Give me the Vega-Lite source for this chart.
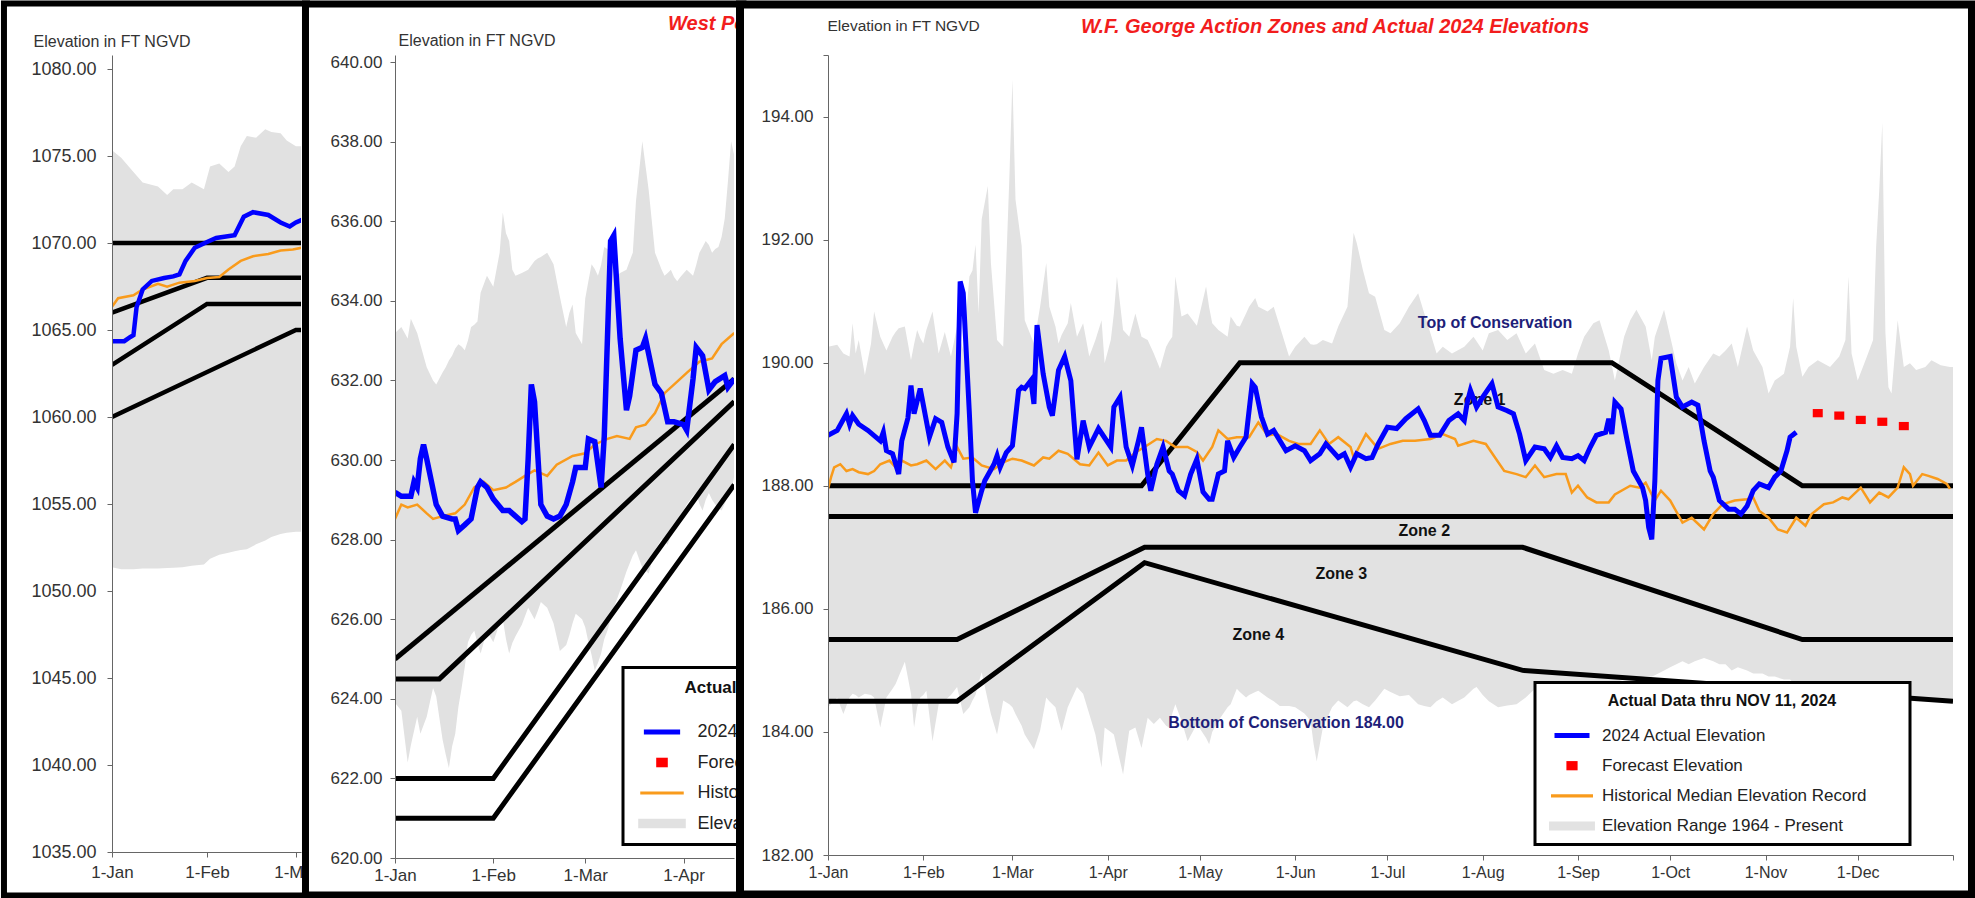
{
"$schema": "https://vega.github.io/schema/vega-lite/v6.json",
"background": "white",
"padding": 0,
"autosize": {"type": "pad"},
"spacing": 94,
"bounds": "flush",
"resolve": {"scale": {"color": "independent", "shape": "independent"}},
"config": {
  "font": "Liberation Sans",
  "view": {"stroke": null},
  "axis": {"zindex": 1, "labelFont": "Liberation Sans", "titleFont": "Liberation Sans", "labelFlush": false, "labelOverlap": false, "tickColor": "#666", "domainColor": "#666", "labelColor": "#333", "titleColor": "#333", "titleFontWeight": "normal"},
  "legend": {"strokeWidth": 3, "labelFont": "Liberation Sans", "titleFont": "Liberation Sans", "zindex": 2}
},
"datasets": {
  "p1range": [
    {"date":"2024-01-01","v":1075.33,"lo":1051.36},{"date":"2024-01-04","v":1074.9,"lo":1051.25},{"date":"2024-01-08","v":1074.08,"lo":1051.25},{"date":"2024-01-11","v":1073.48,"lo":1051.3},{"date":"2024-01-16","v":1073.25,"lo":1051.3},{"date":"2024-01-19","v":1072.76,"lo":1051.32},{"date":"2024-01-21","v":1073.09,"lo":1051.34},{"date":"2024-01-24","v":1073.09,"lo":1051.36},{"date":"2024-01-27","v":1073.48,"lo":1051.45},{"date":"2024-01-31","v":1073.09,"lo":1051.53},{"date":"2024-02-02","v":1074.4,"lo":1051.86},{"date":"2024-02-05","v":1074.57,"lo":1052.09},{"date":"2024-02-08","v":1074.08,"lo":1052.2},{"date":"2024-02-10","v":1074.4,"lo":1052.29},{"date":"2024-02-12","v":1075.56,"lo":1052.35},{"date":"2024-02-14","v":1076.15,"lo":1052.4},{"date":"2024-02-17","v":1076.05,"lo":1052.68},{"date":"2024-02-20","v":1076.54,"lo":1052.9},{"date":"2024-02-22","v":1076.38,"lo":1053.1},{"date":"2024-02-25","v":1076.31,"lo":1053.27},{"date":"2024-02-27","v":1075.89,"lo":1053.35},{"date":"2024-03-01","v":1075.56,"lo":1053.4},{"date":"2024-03-03","v":1075.56,"lo":1053.4},{"date":"2024-03-05","v":1075.6,"lo":1053.4}
  ],
  "p1blue": [
    {"date":"2024-01-01","v":1064.36},{"date":"2024-01-05","v":1064.36},{"date":"2024-01-07","v":1064.6},{"date":"2024-01-08","v":1064.7},{"date":"2024-01-09","v":1066.3},{"date":"2024-01-11","v":1067.33},{"date":"2024-01-14","v":1067.82},{"date":"2024-01-18","v":1067.99},{"date":"2024-01-21","v":1068.08},{"date":"2024-01-23","v":1068.2},{"date":"2024-01-25","v":1068.97},{"date":"2024-01-28","v":1069.73},{"date":"2024-02-01","v":1070.06},{"date":"2024-02-04","v":1070.29},{"date":"2024-02-10","v":1070.45},{"date":"2024-02-13","v":1071.51},{"date":"2024-02-16","v":1071.77},{"date":"2024-02-21","v":1071.61},{"date":"2024-02-25","v":1071.18},{"date":"2024-02-28","v":1070.95},{"date":"2024-03-01","v":1071.18},{"date":"2024-03-03","v":1071.34}
  ],
  "p1orange": [
    {"date":"2024-01-01","v":1066.34},{"date":"2024-01-03","v":1066.83},{"date":"2024-01-08","v":1067.0},{"date":"2024-01-11","v":1067.33},{"date":"2024-01-16","v":1067.66},{"date":"2024-01-19","v":1067.49},{"date":"2024-01-23","v":1067.72},{"date":"2024-01-28","v":1067.82},{"date":"2024-02-01","v":1067.99},{"date":"2024-02-05","v":1068.05},{"date":"2024-02-08","v":1068.48},{"date":"2024-02-12","v":1068.97},{"date":"2024-02-16","v":1069.24},{"date":"2024-02-21","v":1069.37},{"date":"2024-02-25","v":1069.57},{"date":"2024-02-29","v":1069.63},{"date":"2024-03-03","v":1069.73}
  ],
  "p1zones": [
    {"date":"2024-01-01","v":1070,"id":"A"},{"date":"2024-03-05","v":1070,"id":"A"},
    {"date":"2024-01-01","v":1066,"id":"B"},{"date":"2024-02-01","v":1068,"id":"B"},{"date":"2024-03-05","v":1068,"id":"B"},
    {"date":"2024-01-01","v":1063,"id":"C"},{"date":"2024-02-01","v":1066.5,"id":"C"},{"date":"2024-03-05","v":1066.5,"id":"C"},
    {"date":"2024-01-01","v":1060,"id":"D"},{"date":"2024-03-01","v":1065,"id":"D"},{"date":"2024-03-05","v":1065,"id":"D"}
  ],
  "p2range": [
    {"date":"2024-01-01","v":633.19,"lo":623.9},{"date":"2024-01-03","v":633.34,"lo":623.7},{"date":"2024-01-05","v":633.05,"lo":622.4},{"date":"2024-01-06","v":633.55,"lo":622.83},{"date":"2024-01-08","v":633.19,"lo":623.55},{"date":"2024-01-09","v":632.9,"lo":623.12},{"date":"2024-01-11","v":632.33,"lo":623.55},{"date":"2024-01-13","v":632.0,"lo":624.27},{"date":"2024-01-14","v":631.9,"lo":624.06},{"date":"2024-01-16","v":632.2,"lo":622.98},{"date":"2024-01-17","v":632.33,"lo":622.6},{"date":"2024-01-18","v":632.5,"lo":622.26},{"date":"2024-01-19","v":632.62,"lo":622.8},{"date":"2024-01-20","v":632.8,"lo":623.12},{"date":"2024-01-21","v":632.91,"lo":623.8},{"date":"2024-01-22","v":632.85,"lo":624.27},{"date":"2024-01-23","v":632.76,"lo":624.8},{"date":"2024-01-24","v":633.0,"lo":625.42},{"date":"2024-01-25","v":633.34,"lo":625.6},{"date":"2024-01-26","v":633.4,"lo":625.71},{"date":"2024-01-27","v":633.48,"lo":625.4},{"date":"2024-01-28","v":634.2,"lo":625.14},{"date":"2024-01-30","v":634.63,"lo":625.71},{"date":"2024-02-01","v":634.35,"lo":625.42},{"date":"2024-02-03","v":635.21,"lo":625.9},{"date":"2024-02-04","v":636.22,"lo":626.0},{"date":"2024-02-05","v":635.7,"lo":625.5},{"date":"2024-02-06","v":635.5,"lo":625.14},{"date":"2024-02-07","v":634.78,"lo":625.4},{"date":"2024-02-08","v":634.63,"lo":625.57},{"date":"2024-02-10","v":634.7,"lo":625.86},{"date":"2024-02-12","v":634.78,"lo":626.29},{"date":"2024-02-14","v":635.0,"lo":626.0},{"date":"2024-02-15","v":635.06,"lo":626.2},{"date":"2024-02-16","v":635.1,"lo":626.43},{"date":"2024-02-18","v":635.21,"lo":626.29},{"date":"2024-02-20","v":634.92,"lo":625.9},{"date":"2024-02-22","v":634.1,"lo":625.2},{"date":"2024-02-24","v":633.34,"lo":625.35},{"date":"2024-02-25","v":633.7,"lo":625.6},{"date":"2024-02-26","v":633.91,"lo":625.9},{"date":"2024-02-27","v":633.19,"lo":626.14},{"date":"2024-02-29","v":632.91,"lo":626.0},{"date":"2024-03-01","v":634.06,"lo":625.8},{"date":"2024-03-02","v":634.5,"lo":625.42},{"date":"2024-03-03","v":634.92,"lo":625.1},{"date":"2024-03-04","v":634.8,"lo":624.71},{"date":"2024-03-05","v":634.63,"lo":624.9},{"date":"2024-03-06","v":634.9,"lo":625.14},{"date":"2024-03-07","v":635.35,"lo":625.5},{"date":"2024-03-08","v":635.3,"lo":625.71},{"date":"2024-03-09","v":635.21,"lo":626.0},{"date":"2024-03-10","v":634.9,"lo":626.29},{"date":"2024-03-11","v":634.63,"lo":626.5},{"date":"2024-03-12","v":634.7,"lo":626.72},{"date":"2024-03-14","v":634.78,"lo":627.2},{"date":"2024-03-16","v":635.21,"lo":627.6},{"date":"2024-03-17","v":636.5,"lo":627.73},{"date":"2024-03-19","v":638.01,"lo":627.29},{"date":"2024-03-21","v":636.79,"lo":627.15},{"date":"2024-03-23","v":635.21,"lo":627.73},{"date":"2024-03-25","v":634.8,"lo":628.01},{"date":"2024-03-26","v":634.63,"lo":627.95},{"date":"2024-03-27","v":634.7,"lo":627.87},{"date":"2024-03-28","v":634.78,"lo":628.1},{"date":"2024-03-29","v":634.6,"lo":628.3},{"date":"2024-03-30","v":634.49,"lo":628.45},{"date":"2024-03-31","v":634.6,"lo":628.59},{"date":"2024-04-02","v":634.78,"lo":628.88},{"date":"2024-04-04","v":634.63,"lo":629.1},{"date":"2024-04-05","v":634.9,"lo":629.17},{"date":"2024-04-06","v":635.21,"lo":628.9},{"date":"2024-04-07","v":635.35,"lo":628.73},{"date":"2024-04-08","v":635.5,"lo":629.0},{"date":"2024-04-09","v":635.4,"lo":629.17},{"date":"2024-04-10","v":635.21,"lo":629.0},{"date":"2024-04-11","v":635.3,"lo":628.88},{"date":"2024-04-12","v":635.35,"lo":628.8},{"date":"2024-04-13","v":635.6,"lo":628.73},{"date":"2024-04-14","v":636.07,"lo":628.9},{"date":"2024-04-15","v":637.0,"lo":629.1},{"date":"2024-04-16","v":638.01,"lo":629.17},{"date":"2024-04-17","v":637.65,"lo":629.6}
  ],
  "p2blue": [
    {"date":"2024-01-01","v":629.19},{"date":"2024-01-03","v":629.09},{"date":"2024-01-06","v":629.09},{"date":"2024-01-07","v":629.45},{"date":"2024-01-08","v":629.31},{"date":"2024-01-09","v":630.03},{"date":"2024-01-10","v":630.39},{"date":"2024-01-11","v":630.03},{"date":"2024-01-14","v":628.88},{"date":"2024-01-16","v":628.59},{"date":"2024-01-19","v":628.52},{"date":"2024-01-20","v":628.52},{"date":"2024-01-21","v":628.23},{"date":"2024-01-23","v":628.37},{"date":"2024-01-25","v":628.52},{"date":"2024-01-27","v":629.31},{"date":"2024-01-28","v":629.45},{"date":"2024-01-30","v":629.31},{"date":"2024-02-01","v":629.02},{"date":"2024-02-04","v":628.73},{"date":"2024-02-06","v":628.73},{"date":"2024-02-08","v":628.59},{"date":"2024-02-10","v":628.45},{"date":"2024-02-11","v":628.52},{"date":"2024-02-12","v":630.03},{"date":"2024-02-13","v":631.9},{"date":"2024-02-14","v":631.47},{"date":"2024-02-16","v":628.88},{"date":"2024-02-18","v":628.59},{"date":"2024-02-20","v":628.52},{"date":"2024-02-22","v":628.59},{"date":"2024-02-24","v":628.88},{"date":"2024-02-26","v":629.45},{"date":"2024-02-27","v":629.81},{"date":"2024-03-01","v":629.81},{"date":"2024-03-02","v":630.53},{"date":"2024-03-04","v":630.46},{"date":"2024-03-06","v":629.31},{"date":"2024-03-07","v":630.6},{"date":"2024-03-09","v":635.5},{"date":"2024-03-10","v":635.64},{"date":"2024-03-12","v":633.05},{"date":"2024-03-14","v":631.25},{"date":"2024-03-15","v":631.61},{"date":"2024-03-17","v":632.76},{"date":"2024-03-19","v":632.83},{"date":"2024-03-20","v":633.05},{"date":"2024-03-23","v":631.9},{"date":"2024-03-25","v":631.68},{"date":"2024-03-27","v":630.96},{"date":"2024-03-29","v":630.96},{"date":"2024-04-01","v":630.89},{"date":"2024-04-02","v":630.75},{"date":"2024-04-04","v":632.04},{"date":"2024-04-05","v":632.83},{"date":"2024-04-07","v":632.62},{"date":"2024-04-09","v":631.76},{"date":"2024-04-11","v":631.97},{"date":"2024-04-14","v":632.12},{"date":"2024-04-15","v":631.83},{"date":"2024-04-17","v":632.04}
  ],
  "p2orange": [
    {"date":"2024-01-01","v":628.52},{"date":"2024-01-03","v":628.88},{"date":"2024-01-05","v":628.81},{"date":"2024-01-08","v":628.88},{"date":"2024-01-11","v":628.66},{"date":"2024-01-13","v":628.52},{"date":"2024-01-16","v":628.59},{"date":"2024-01-20","v":628.66},{"date":"2024-01-23","v":628.88},{"date":"2024-01-26","v":629.31},{"date":"2024-01-29","v":629.45},{"date":"2024-02-01","v":629.24},{"date":"2024-02-05","v":629.31},{"date":"2024-02-08","v":629.45},{"date":"2024-02-11","v":629.6},{"date":"2024-02-14","v":629.74},{"date":"2024-02-18","v":629.6},{"date":"2024-02-21","v":629.88},{"date":"2024-02-26","v":630.1},{"date":"2024-03-01","v":630.17},{"date":"2024-03-04","v":630.39},{"date":"2024-03-08","v":630.53},{"date":"2024-03-11","v":630.6},{"date":"2024-03-15","v":630.53},{"date":"2024-03-17","v":630.82},{"date":"2024-03-20","v":630.89},{"date":"2024-03-23","v":631.18},{"date":"2024-03-26","v":631.68},{"date":"2024-03-30","v":631.97},{"date":"2024-04-02","v":632.19},{"date":"2024-04-06","v":632.47},{"date":"2024-04-10","v":632.55},{"date":"2024-04-13","v":632.91},{"date":"2024-04-17","v":633.19}
  ],
  "p2zones": [
    {"date":"2024-01-01","v":625,"id":"a"},{"date":"2024-04-17","v":632.04,"id":"a"},
    {"date":"2024-01-01","v":624.5,"id":"b"},{"date":"2024-01-15","v":624.5,"id":"b"},{"date":"2024-04-17","v":631.47,"id":"b"},
    {"date":"2024-01-01","v":622,"id":"c"},{"date":"2024-02-01","v":622,"id":"c"},{"date":"2024-04-17","v":630.39,"id":"c"},
    {"date":"2024-01-01","v":621,"id":"d"},{"date":"2024-02-01","v":621,"id":"d"},{"date":"2024-04-17","v":629.38,"id":"d"}
  ],
  "p3range": [
    {"date":"2024-01-01","v":190.26,"lo":184.4},{"date":"2024-01-04","v":190.29,"lo":184.56},{"date":"2024-01-06","v":190.15,"lo":184.29},{"date":"2024-01-08","v":190.1,"lo":184.56},{"date":"2024-01-09","v":190.64,"lo":184.62},{"date":"2024-01-10","v":190.15,"lo":184.6},{"date":"2024-01-11","v":190.37,"lo":184.56},{"date":"2024-01-13","v":189.8,"lo":184.62},{"date":"2024-01-15","v":190.31,"lo":184.6},{"date":"2024-01-16","v":190.83,"lo":184.56},{"date":"2024-01-18","v":190.42,"lo":184.07},{"date":"2024-01-20","v":190.2,"lo":184.56},{"date":"2024-01-22","v":190.42,"lo":184.7},{"date":"2024-01-23","v":190.5,"lo":184.78},{"date":"2024-01-24","v":190.56,"lo":184.9},{"date":"2024-01-26","v":190.59,"lo":185.14},{"date":"2024-01-28","v":190.04,"lo":184.62},{"date":"2024-01-29","v":190.3,"lo":184.07},{"date":"2024-01-30","v":190.53,"lo":184.4},{"date":"2024-01-31","v":190.4,"lo":184.56},{"date":"2024-02-01","v":190.31,"lo":184.6},{"date":"2024-02-02","v":190.53,"lo":184.67},{"date":"2024-02-04","v":190.83,"lo":183.85},{"date":"2024-02-06","v":190.15,"lo":184.45},{"date":"2024-02-08","v":190.5,"lo":184.51},{"date":"2024-02-10","v":190.1,"lo":184.6},{"date":"2024-02-12","v":190.59,"lo":184.73},{"date":"2024-02-14","v":190.2,"lo":184.29},{"date":"2024-02-16","v":191.4,"lo":184.4},{"date":"2024-02-17","v":191.5,"lo":184.51},{"date":"2024-02-18","v":191.92,"lo":184.6},{"date":"2024-02-19","v":190.8,"lo":184.8},{"date":"2024-02-20","v":192.33,"lo":184.97},{"date":"2024-02-22","v":192.87,"lo":184.51},{"date":"2024-02-23","v":191.62,"lo":184.29},{"date":"2024-02-25","v":190.37,"lo":183.96},{"date":"2024-02-27","v":190.26,"lo":184.51},{"date":"2024-02-29","v":193.0,"lo":184.45},{"date":"2024-03-01","v":194.6,"lo":184.4},{"date":"2024-03-02","v":192.65,"lo":184.29},{"date":"2024-03-04","v":191.9,"lo":184.1},{"date":"2024-03-05","v":190.69,"lo":183.96},{"date":"2024-03-08","v":190.31,"lo":183.72},{"date":"2024-03-10","v":190.91,"lo":184.02},{"date":"2024-03-12","v":191.62,"lo":184.56},{"date":"2024-03-13","v":190.91,"lo":184.5},{"date":"2024-03-15","v":190.59,"lo":184.4},{"date":"2024-03-16","v":190.31,"lo":184.2},{"date":"2024-03-17","v":190.45,"lo":184.02},{"date":"2024-03-19","v":190.64,"lo":184.4},{"date":"2024-03-20","v":190.97,"lo":184.51},{"date":"2024-03-22","v":190.42,"lo":184.73},{"date":"2024-03-24","v":190.64,"lo":184.62},{"date":"2024-03-26","v":190.1,"lo":184.29},{"date":"2024-03-28","v":190.37,"lo":183.96},{"date":"2024-03-30","v":190.69,"lo":183.42},{"date":"2024-03-31","v":189.99,"lo":184.07},{"date":"2024-04-02","v":190.37,"lo":184.0},{"date":"2024-04-03","v":190.8,"lo":183.96},{"date":"2024-04-04","v":191.4,"lo":183.74},{"date":"2024-04-06","v":190.53,"lo":183.31},{"date":"2024-04-08","v":190.42,"lo":184.02},{"date":"2024-04-10","v":190.8,"lo":184.07},{"date":"2024-04-12","v":190.42,"lo":183.74},{"date":"2024-04-14","v":190.37,"lo":184.23},{"date":"2024-04-16","v":190.15,"lo":184.13},{"date":"2024-04-18","v":189.9,"lo":184.23},{"date":"2024-04-20","v":190.26,"lo":184.1},{"date":"2024-04-21","v":190.35,"lo":184.07},{"date":"2024-04-22","v":190.42,"lo":184.3},{"date":"2024-04-23","v":191.4,"lo":184.45},{"date":"2024-04-25","v":190.75,"lo":184.18},{"date":"2024-04-27","v":190.8,"lo":183.85},{"date":"2024-04-30","v":190.6,"lo":184.13},{"date":"2024-05-03","v":191.24,"lo":183.9},{"date":"2024-05-04","v":190.9,"lo":183.8},{"date":"2024-05-05","v":190.64,"lo":184.0},{"date":"2024-05-07","v":190.53,"lo":184.18},{"date":"2024-05-10","v":190.42,"lo":184.4},{"date":"2024-05-11","v":190.75,"lo":184.45},{"date":"2024-05-13","v":190.6,"lo":184.7},{"date":"2024-05-14","v":190.59,"lo":184.65},{"date":"2024-05-16","v":190.8,"lo":184.56},{"date":"2024-05-17","v":190.91,"lo":184.6},{"date":"2024-05-19","v":191.05,"lo":184.65},{"date":"2024-05-20","v":190.91,"lo":184.67},{"date":"2024-05-23","v":190.83,"lo":184.56},{"date":"2024-05-25","v":190.91,"lo":184.5},{"date":"2024-05-27","v":190.59,"lo":184.42},{"date":"2024-05-30","v":190.1,"lo":184.42},{"date":"2024-06-01","v":190.26,"lo":184.4},{"date":"2024-06-04","v":190.42,"lo":184.3},{"date":"2024-06-06","v":190.3,"lo":184.18},{"date":"2024-06-07","v":190.29,"lo":183.8},{"date":"2024-06-08","v":190.3,"lo":183.52},{"date":"2024-06-10","v":190.37,"lo":184.07},{"date":"2024-06-13","v":190.31,"lo":184.4},{"date":"2024-06-15","v":190.59,"lo":184.51},{"date":"2024-06-18","v":190.91,"lo":184.4},{"date":"2024-06-20","v":192.11,"lo":184.5},{"date":"2024-06-21","v":191.95,"lo":184.51},{"date":"2024-06-23","v":191.51,"lo":184.45},{"date":"2024-06-25","v":191.13,"lo":184.4},{"date":"2024-06-27","v":191.07,"lo":184.51},{"date":"2024-06-30","v":190.53,"lo":184.7},{"date":"2024-07-02","v":190.48,"lo":184.65},{"date":"2024-07-05","v":190.64,"lo":184.58},{"date":"2024-07-08","v":190.91,"lo":184.6},{"date":"2024-07-11","v":191.13,"lo":184.45},{"date":"2024-07-13","v":190.8,"lo":184.42},{"date":"2024-07-15","v":190.48,"lo":184.4},{"date":"2024-07-17","v":190.15,"lo":184.5},{"date":"2024-07-19","v":190.26,"lo":184.56},{"date":"2024-07-22","v":190.15,"lo":184.45},{"date":"2024-07-26","v":190.26,"lo":184.56},{"date":"2024-07-29","v":190.42,"lo":184.7},{"date":"2024-07-30","v":190.35,"lo":184.73},{"date":"2024-08-01","v":190.2,"lo":184.6},{"date":"2024-08-03","v":190.48,"lo":184.5},{"date":"2024-08-06","v":190.53,"lo":184.4},{"date":"2024-08-09","v":190.37,"lo":184.43},{"date":"2024-08-12","v":190.48,"lo":184.45},{"date":"2024-08-15","v":190.15,"lo":184.56},{"date":"2024-08-18","v":190.31,"lo":184.7},{"date":"2024-08-21","v":189.88,"lo":184.65},{"date":"2024-08-24","v":189.82,"lo":184.6},{"date":"2024-08-27","v":189.88,"lo":184.65},{"date":"2024-08-30","v":189.82,"lo":184.7},{"date":"2024-09-01","v":190.15,"lo":184.7},{"date":"2024-09-03","v":190.42,"lo":184.72},{"date":"2024-09-06","v":190.64,"lo":184.75},{"date":"2024-09-08","v":190.69,"lo":184.78},{"date":"2024-09-11","v":190.2,"lo":184.8},{"date":"2024-09-13","v":189.71,"lo":184.8},{"date":"2024-09-16","v":190.42,"lo":184.85},{"date":"2024-09-18","v":190.69,"lo":184.85},{"date":"2024-09-20","v":190.86,"lo":184.88},{"date":"2024-09-23","v":190.59,"lo":184.9},{"date":"2024-09-25","v":190.04,"lo":184.9},{"date":"2024-09-26","v":190.42,"lo":184.92},{"date":"2024-09-29","v":190.86,"lo":185.0},{"date":"2024-10-01","v":190.42,"lo":185.05},{"date":"2024-10-03","v":189.99,"lo":185.1},{"date":"2024-10-05","v":189.71,"lo":185.15},{"date":"2024-10-07","v":189.93,"lo":185.1},{"date":"2024-10-09","v":189.66,"lo":185.15},{"date":"2024-10-12","v":189.93,"lo":185.2},{"date":"2024-10-15","v":190.15,"lo":185.15},{"date":"2024-10-17","v":190.1,"lo":185.1},{"date":"2024-10-19","v":190.2,"lo":185.1},{"date":"2024-10-21","v":190.31,"lo":185.0},{"date":"2024-10-23","v":189.93,"lo":185.05},{"date":"2024-10-26","v":190.59,"lo":185.0},{"date":"2024-10-28","v":190.2,"lo":184.95},{"date":"2024-10-31","v":189.93,"lo":184.95},{"date":"2024-11-02","v":189.5,"lo":184.9},{"date":"2024-11-04","v":189.71,"lo":184.9},{"date":"2024-11-07","v":189.82,"lo":184.85},{"date":"2024-11-09","v":190.26,"lo":184.85},{"date":"2024-11-10","v":191.05,"lo":184.8},{"date":"2024-11-11","v":190.26,"lo":184.8},{"date":"2024-11-13","v":189.77,"lo":184.8},{"date":"2024-11-15","v":189.93,"lo":184.75},{"date":"2024-11-18","v":190.04,"lo":184.75},{"date":"2024-11-22","v":189.93,"lo":184.7},{"date":"2024-11-25","v":190.1,"lo":184.65},{"date":"2024-11-27","v":190.37,"lo":184.65},{"date":"2024-11-28","v":191.4,"lo":184.6},{"date":"2024-11-29","v":190.15,"lo":184.6},{"date":"2024-12-01","v":189.71,"lo":184.6},{"date":"2024-12-04","v":190.1,"lo":184.6},{"date":"2024-12-06","v":190.37,"lo":184.6},{"date":"2024-12-07","v":191.89,"lo":184.6},{"date":"2024-12-08","v":192.8,"lo":184.6},{"date":"2024-12-09","v":193.9,"lo":184.55},{"date":"2024-12-10","v":190.5,"lo":184.55},{"date":"2024-12-11","v":189.6,"lo":184.55},{"date":"2024-12-12","v":189.5,"lo":184.55},{"date":"2024-12-14","v":190.69,"lo":184.5},{"date":"2024-12-16","v":189.93,"lo":184.5},{"date":"2024-12-18","v":189.99,"lo":184.5},{"date":"2024-12-20","v":189.88,"lo":184.5},{"date":"2024-12-23","v":189.93,"lo":184.5},{"date":"2024-12-25","v":190.04,"lo":184.5},{"date":"2024-12-28","v":189.96,"lo":184.5},{"date":"2024-12-31","v":189.93,"lo":184.5},{"date":"2025-01-01","v":189.93,"lo":184.5}
  ],
  "p3blue": [
    {"date":"2024-01-01","v":188.82},{"date":"2024-01-04","v":188.9},{"date":"2024-01-07","v":189.17},{"date":"2024-01-08","v":189.0},{"date":"2024-01-09","v":189.14},{"date":"2024-01-11","v":189.0},{"date":"2024-01-14","v":188.9},{"date":"2024-01-18","v":188.73},{"date":"2024-01-19","v":188.87},{"date":"2024-01-20","v":188.57},{"date":"2024-01-22","v":188.52},{"date":"2024-01-24","v":188.19},{"date":"2024-01-25","v":188.73},{"date":"2024-01-27","v":189.1},{"date":"2024-01-28","v":189.63},{"date":"2024-01-29","v":189.17},{"date":"2024-01-31","v":189.58},{"date":"2024-02-03","v":188.79},{"date":"2024-02-05","v":189.09},{"date":"2024-02-07","v":189.03},{"date":"2024-02-09","v":188.63},{"date":"2024-02-11","v":188.38},{"date":"2024-02-12","v":189.17},{"date":"2024-02-13","v":191.32},{"date":"2024-02-14","v":191.13},{"date":"2024-02-16","v":189.17},{"date":"2024-02-17","v":188.08},{"date":"2024-02-18","v":187.56},{"date":"2024-02-20","v":187.92},{"date":"2024-02-21","v":188.08},{"date":"2024-02-24","v":188.35},{"date":"2024-02-25","v":188.49},{"date":"2024-02-26","v":188.3},{"date":"2024-02-28","v":188.54},{"date":"2024-03-01","v":188.65},{"date":"2024-03-03","v":189.55},{"date":"2024-03-04","v":189.6},{"date":"2024-03-05","v":189.58},{"date":"2024-03-07","v":189.71},{"date":"2024-03-08","v":189.33},{"date":"2024-03-09","v":190.61},{"date":"2024-03-11","v":189.82},{"date":"2024-03-13","v":189.28},{"date":"2024-03-14","v":189.14},{"date":"2024-03-16","v":189.88},{"date":"2024-03-18","v":190.1},{"date":"2024-03-20","v":189.71},{"date":"2024-03-22","v":188.43},{"date":"2024-03-24","v":189.06},{"date":"2024-03-26","v":188.63},{"date":"2024-03-29","v":188.93},{"date":"2024-04-02","v":188.63},{"date":"2024-04-03","v":189.28},{"date":"2024-04-05","v":189.44},{"date":"2024-04-07","v":188.63},{"date":"2024-04-09","v":188.33},{"date":"2024-04-11","v":188.73},{"date":"2024-04-12","v":188.95},{"date":"2024-04-14","v":188.19},{"date":"2024-04-15","v":187.92},{"date":"2024-04-17","v":188.35},{"date":"2024-04-19","v":188.63},{"date":"2024-04-21","v":188.24},{"date":"2024-04-22","v":188.19},{"date":"2024-04-24","v":187.92},{"date":"2024-04-26","v":187.84},{"date":"2024-04-28","v":188.19},{"date":"2024-04-30","v":188.43},{"date":"2024-05-02","v":187.9},{"date":"2024-05-04","v":187.78},{"date":"2024-05-05","v":187.78},{"date":"2024-05-07","v":188.19},{"date":"2024-05-09","v":188.24},{"date":"2024-05-10","v":188.73},{"date":"2024-05-12","v":188.46},{"date":"2024-05-14","v":188.63},{"date":"2024-05-16","v":188.79},{"date":"2024-05-18","v":189.66},{"date":"2024-05-19","v":189.6},{"date":"2024-05-21","v":189.12},{"date":"2024-05-23","v":188.84},{"date":"2024-05-25","v":188.9},{"date":"2024-05-29","v":188.57},{"date":"2024-06-01","v":188.65},{"date":"2024-06-04","v":188.57},{"date":"2024-06-06","v":188.41},{"date":"2024-06-09","v":188.52},{"date":"2024-06-11","v":188.68},{"date":"2024-06-13","v":188.57},{"date":"2024-06-15","v":188.46},{"date":"2024-06-17","v":188.52},{"date":"2024-06-19","v":188.3},{"date":"2024-06-21","v":188.52},{"date":"2024-06-24","v":188.44},{"date":"2024-06-26","v":188.46},{"date":"2024-06-28","v":188.68},{"date":"2024-07-01","v":188.95},{"date":"2024-07-04","v":188.93},{"date":"2024-07-07","v":189.09},{"date":"2024-07-11","v":189.25},{"date":"2024-07-13","v":189.06},{"date":"2024-07-15","v":188.82},{"date":"2024-07-18","v":188.82},{"date":"2024-07-21","v":189.06},{"date":"2024-07-24","v":189.17},{"date":"2024-07-26","v":189.06},{"date":"2024-07-27","v":189.36},{"date":"2024-07-28","v":189.55},{"date":"2024-07-30","v":189.28},{"date":"2024-08-01","v":189.44},{"date":"2024-08-04","v":189.66},{"date":"2024-08-06","v":189.28},{"date":"2024-08-09","v":189.22},{"date":"2024-08-11","v":189.17},{"date":"2024-08-13","v":188.84},{"date":"2024-08-15","v":188.41},{"date":"2024-08-18","v":188.63},{"date":"2024-08-21","v":188.6},{"date":"2024-08-23","v":188.46},{"date":"2024-08-25","v":188.65},{"date":"2024-08-27","v":188.46},{"date":"2024-08-30","v":188.44},{"date":"2024-09-01","v":188.49},{"date":"2024-09-03","v":188.41},{"date":"2024-09-05","v":188.63},{"date":"2024-09-07","v":188.82},{"date":"2024-09-10","v":188.87},{"date":"2024-09-11","v":189.09},{"date":"2024-09-12","v":188.84},{"date":"2024-09-13","v":189.36},{"date":"2024-09-15","v":189.25},{"date":"2024-09-17","v":188.73},{"date":"2024-09-19","v":188.24},{"date":"2024-09-22","v":187.97},{"date":"2024-09-23","v":187.76},{"date":"2024-09-24","v":187.32},{"date":"2024-09-25","v":187.13},{"date":"2024-09-26","v":188.08},{"date":"2024-09-27","v":189.71},{"date":"2024-09-28","v":190.07},{"date":"2024-10-01","v":190.1},{"date":"2024-10-03","v":189.44},{"date":"2024-10-05","v":189.28},{"date":"2024-10-08","v":189.36},{"date":"2024-10-10","v":189.31},{"date":"2024-10-12","v":188.73},{"date":"2024-10-14","v":188.24},{"date":"2024-10-15","v":188.14},{"date":"2024-10-17","v":187.76},{"date":"2024-10-20","v":187.62},{"date":"2024-10-22","v":187.62},{"date":"2024-10-24","v":187.54},{"date":"2024-10-26","v":187.67},{"date":"2024-10-28","v":187.92},{"date":"2024-10-30","v":188.03},{"date":"2024-11-02","v":187.97},{"date":"2024-11-04","v":188.14},{"date":"2024-11-06","v":188.24},{"date":"2024-11-08","v":188.57},{"date":"2024-11-09","v":188.79},{"date":"2024-11-11","v":188.87}
  ],
  "p3orange": [
    {"date":"2024-01-01","v":187.95},{"date":"2024-01-02","v":188.14},{"date":"2024-01-03","v":188.3},{"date":"2024-01-05","v":188.35},{"date":"2024-01-07","v":188.24},{"date":"2024-01-09","v":188.27},{"date":"2024-01-11","v":188.22},{"date":"2024-01-14","v":188.19},{"date":"2024-01-16","v":188.24},{"date":"2024-01-18","v":188.35},{"date":"2024-01-21","v":188.41},{"date":"2024-01-23","v":188.3},{"date":"2024-01-25","v":188.41},{"date":"2024-01-28","v":188.33},{"date":"2024-01-30","v":188.35},{"date":"2024-02-02","v":188.41},{"date":"2024-02-05","v":188.27},{"date":"2024-02-08","v":188.41},{"date":"2024-02-10","v":188.3},{"date":"2024-02-12","v":188.63},{"date":"2024-02-14","v":188.44},{"date":"2024-02-17","v":188.46},{"date":"2024-02-20","v":188.33},{"date":"2024-02-24","v":188.27},{"date":"2024-02-27","v":188.38},{"date":"2024-03-01","v":188.44},{"date":"2024-03-04","v":188.41},{"date":"2024-03-08","v":188.33},{"date":"2024-03-11","v":188.46},{"date":"2024-03-13","v":188.44},{"date":"2024-03-16","v":188.57},{"date":"2024-03-19","v":188.52},{"date":"2024-03-23","v":188.35},{"date":"2024-03-26","v":188.33},{"date":"2024-03-29","v":188.54},{"date":"2024-04-01","v":188.33},{"date":"2024-04-04","v":188.41},{"date":"2024-04-07","v":188.41},{"date":"2024-04-10","v":188.54},{"date":"2024-04-13","v":188.63},{"date":"2024-04-17","v":188.76},{"date":"2024-04-20","v":188.73},{"date":"2024-04-23","v":188.63},{"date":"2024-04-27","v":188.63},{"date":"2024-04-30","v":188.55},{"date":"2024-05-02","v":188.41},{"date":"2024-05-05","v":188.63},{"date":"2024-05-07","v":188.9},{"date":"2024-05-10","v":188.76},{"date":"2024-05-13","v":188.79},{"date":"2024-05-17","v":188.79},{"date":"2024-05-20","v":189.03},{"date":"2024-05-23","v":188.82},{"date":"2024-05-26","v":188.84},{"date":"2024-05-30","v":188.73},{"date":"2024-06-02","v":188.68},{"date":"2024-06-06","v":188.68},{"date":"2024-06-09","v":188.9},{"date":"2024-06-12","v":188.68},{"date":"2024-06-15","v":188.79},{"date":"2024-06-19","v":188.63},{"date":"2024-06-20","v":188.46},{"date":"2024-06-24","v":188.84},{"date":"2024-06-28","v":188.6},{"date":"2024-07-02","v":188.68},{"date":"2024-07-06","v":188.73},{"date":"2024-07-10","v":188.73},{"date":"2024-07-15","v":188.76},{"date":"2024-07-19","v":188.84},{"date":"2024-07-23","v":188.76},{"date":"2024-07-24","v":188.65},{"date":"2024-07-29","v":188.73},{"date":"2024-08-02","v":188.68},{"date":"2024-08-05","v":188.46},{"date":"2024-08-08","v":188.24},{"date":"2024-08-12","v":188.19},{"date":"2024-08-15","v":188.14},{"date":"2024-08-18","v":188.33},{"date":"2024-08-21","v":188.14},{"date":"2024-08-25","v":188.19},{"date":"2024-08-28","v":188.19},{"date":"2024-08-30","v":187.89},{"date":"2024-09-01","v":188.0},{"date":"2024-09-04","v":187.81},{"date":"2024-09-07","v":187.73},{"date":"2024-09-11","v":187.73},{"date":"2024-09-13","v":187.86},{"date":"2024-09-18","v":188.0},{"date":"2024-09-21","v":187.97},{"date":"2024-09-23","v":188.05},{"date":"2024-09-26","v":187.76},{"date":"2024-09-28","v":187.92},{"date":"2024-10-01","v":187.76},{"date":"2024-10-05","v":187.4},{"date":"2024-10-08","v":187.48},{"date":"2024-10-12","v":187.29},{"date":"2024-10-15","v":187.54},{"date":"2024-10-18","v":187.7},{"date":"2024-10-22","v":187.76},{"date":"2024-10-26","v":187.78},{"date":"2024-10-28","v":187.81},{"date":"2024-10-30","v":187.59},{"date":"2024-11-02","v":187.48},{"date":"2024-11-05","v":187.29},{"date":"2024-11-08","v":187.24},{"date":"2024-11-11","v":187.48},{"date":"2024-11-14","v":187.35},{"date":"2024-11-16","v":187.54},{"date":"2024-11-20","v":187.7},{"date":"2024-11-23","v":187.73},{"date":"2024-11-26","v":187.81},{"date":"2024-11-28","v":187.78},{"date":"2024-12-02","v":187.97},{"date":"2024-12-05","v":187.73},{"date":"2024-12-08","v":187.89},{"date":"2024-12-11","v":187.81},{"date":"2024-12-14","v":187.97},{"date":"2024-12-16","v":188.3},{"date":"2024-12-18","v":188.19},{"date":"2024-12-19","v":188.0},{"date":"2024-12-22","v":188.19},{"date":"2024-12-24","v":188.16},{"date":"2024-12-27","v":188.11},{"date":"2024-12-30","v":188.03},{"date":"2024-12-31","v":187.95}
  ],
  "p3zones": [
    {"date":"2024-01-01","v":188,"id":"top"},{"date":"2024-04-12","v":188,"id":"top"},{"date":"2024-05-14","v":190,"id":"top"},{"date":"2024-09-12","v":190,"id":"top"},{"date":"2024-11-13","v":188,"id":"top"},{"date":"2025-01-01","v":188,"id":"top"},
    {"date":"2024-01-01","v":187.5,"id":"z2"},{"date":"2025-01-01","v":187.5,"id":"z2"},
    {"date":"2024-01-01","v":185.5,"id":"z3"},{"date":"2024-02-12","v":185.5,"id":"z3"},{"date":"2024-04-13","v":187,"id":"z3"},{"date":"2024-08-14","v":187,"id":"z3"},{"date":"2024-11-13","v":185.5,"id":"z3"},{"date":"2025-01-01","v":185.5,"id":"z3"},
    {"date":"2024-01-01","v":184.5,"id":"z4"},{"date":"2024-02-12","v":184.5,"id":"z4"},{"date":"2024-04-13","v":186.75,"id":"z4"},{"date":"2024-08-14","v":185,"id":"z4"},{"date":"2025-01-01","v":184.5,"id":"z4"}
  ],
  "p3forecast": [
    {"date":"2024-11-18","v":189.18},{"date":"2024-11-25","v":189.14},{"date":"2024-12-02","v":189.07},{"date":"2024-12-09","v":189.04},{"date":"2024-12-16","v":188.97}
  ],
  "p3navy": [
    {"date":"2024-08-05","v":190.64,"label":"Top of Conservation"},
    {"date":"2024-05-29","v":184.14,"label":"Bottom of Conservation 184.00"}
  ],
  "p3zonelabels": [
    {"date":"2024-07-31","v":189.4,"label":"Zone 1"},
    {"date":"2024-07-13","v":187.27,"label":"Zone 2"},
    {"date":"2024-06-16","v":186.57,"label":"Zone 3"},
    {"date":"2024-05-20","v":185.58,"label":"Zone 4"}
  ]
},
"hconcat": [
  {
    "width": 189, "height": 797,
    "layer": [
      {"data": {"values": [{}]}, "mark": {"type": "rect", "fill": "white", "stroke": "black", "strokeWidth": 6, "clip": false},
       "encoding": {
         "x": {"datum": 1701021600000, "type": "temporal"},
         "x2": {"datum": 1709564400000},
         "y": {"datum": 1083.765, "type": "quantitative"},
         "y2": {"datum": 1032.5}}},
      {"data": {"name": "p1range"}, "mark": {"type": "area", "color": "#e1e1e1", "opacity": 1, "clip": true},
       "encoding": {
         "x": {"field": "date", "type": "temporal",
           "scale": {"type": "utc", "domain": [{"year":2024,"month":1,"date":1,"utc":true},{"year":2024,"month":3,"date":2,"hours":16,"utc":true}]},
           "axis": {"zindex": 1, "values": [{"year":2024,"month":1,"date":1,"utc":true},{"year":2024,"month":2,"date":1,"utc":true},{"year":2024,"month":3,"date":1,"utc":true}],
             "format": "%-d-%b", "title": null, "labelFontSize": 17, "labelPadding": 7, "tickSize": 5, "gridColor": "#a8a8a8", "gridWidth": 1.2}},
         "y": {"field": "v", "type": "quantitative",
           "scale": {"domain": [1035, 1080.805], "nice": false, "zero": false},
           "axis": {"zindex": 1, "values": [1035,1040,1045,1050,1055,1060,1065,1070,1075,1080], "format": ".2f",
             "title": "Elevation in FT NGVD", "titleAngle": 0, "titleAlign": "left", "titleBaseline": "middle", "titleX": -79, "titleY": -13.5, "titleFontSize": 16,
             "labelFontSize": 18, "labelPadding": 11, "tickSize": 5, "gridColor": "#a8a8a8", "gridWidth": 1.2}},
         "y2": {"field": "lo"}}},
      {"data": {"name": "p1zones"}, "mark": {"type": "line", "color": "black", "strokeWidth": 4.5, "clip": true},
       "encoding": {"x": {"field": "date", "type": "temporal"}, "y": {"field": "v", "type": "quantitative"}, "detail": {"field": "id"}}},
      {"data": {"name": "p1orange"}, "mark": {"type": "line", "color": "#f99b1c", "strokeWidth": 2.5, "clip": true},
       "encoding": {"x": {"field": "date", "type": "temporal"}, "y": {"field": "v", "type": "quantitative"}}},
      {"data": {"name": "p1blue"}, "mark": {"type": "line", "color": "#0000ff", "strokeWidth": 4.5, "clip": true},
       "encoding": {"x": {"field": "date", "type": "temporal"}, "y": {"field": "v", "type": "quantitative"}}}
    ]
  },
  {
    "width": 339, "height": 803,
    "layer": [
      {"data": {"values": [{}]}, "mark": {"type": "rect", "fill": "white", "stroke": "black", "strokeWidth": 7, "clip": false},
       "encoding": {
         "x": {"datum": 1701628128000, "type": "temporal"},
         "x2": {"datum": 1713549600000},
         "y": {"datum": 641.457, "type": "quantitative"},
         "y2": {"datum": 619.07}}},
      {"data": {"values": [{}]}, "mark": {"type": "text", "text": "West Point Action Zones and Actual 2024 Elevations", "align": "left", "baseline": "middle", "color": "#f21d1d", "font": "Liberation Sans", "fontSize": 20, "fontStyle": "italic", "fontWeight": "bold", "clip": false},
       "encoding": {
         "x": {"datum": 1711506240000, "type": "temporal"},
         "y": {"datum": 640.967, "type": "quantitative"}}},
      {"data": {"name": "p2range"}, "mark": {"type": "area", "color": "#e1e1e1", "opacity": 1, "clip": true},
       "encoding": {
         "x": {"field": "date", "type": "temporal",
           "scale": {"type": "utc", "domain": [{"year":2024,"month":1,"date":1,"utc":true},{"year":2024,"month":4,"date":16,"hours":22,"utc":true}]},
           "axis": {"zindex": 1, "values": [{"year":2024,"month":1,"date":1,"utc":true},{"year":2024,"month":2,"date":1,"utc":true},{"year":2024,"month":3,"date":1,"utc":true},{"year":2024,"month":4,"date":1,"utc":true}],
             "format": "%-d-%b", "title": null, "labelFontSize": 17, "labelPadding": 4, "tickSize": 5, "gridColor": "#a8a8a8", "gridWidth": 1.2}},
         "y": {"field": "v", "type": "quantitative",
           "scale": {"domain": [620, 640.176], "nice": false, "zero": false},
           "axis": {"zindex": 1, "values": [620,622,624,626,628,630,632,634,636,638,640], "format": ".2f",
             "title": "Elevation in FT NGVD", "titleAngle": 0, "titleAlign": "left", "titleBaseline": "middle", "titleX": 3, "titleY": -14.5, "titleFontSize": 16,
             "labelFontSize": 17, "labelPadding": 8, "tickSize": 5, "gridColor": "#a8a8a8", "gridWidth": 1.2}},
         "y2": {"field": "lo"}}},
      {"data": {"name": "p2zones"}, "mark": {"type": "line", "color": "black", "strokeWidth": 5, "clip": true},
       "encoding": {"x": {"field": "date", "type": "temporal"}, "y": {"field": "v", "type": "quantitative"}, "detail": {"field": "id"}}},
      {"data": {"name": "p2orange"}, "mark": {"type": "line", "color": "#f99b1c", "strokeWidth": 2.5, "clip": true},
       "encoding": {"x": {"field": "date", "type": "temporal"}, "y": {"field": "v", "type": "quantitative"}}},
      {"data": {"name": "p2blue"}, "mark": {"type": "line", "color": "#0000ff", "strokeWidth": 5.5, "clip": true},
       "encoding": {"x": {"field": "date", "type": "temporal"}, "y": {"field": "v", "type": "quantitative"}}},
      {"data": {"values": []}, "mark": {"type": "point", "filled": true, "size": 625, "opacity": 1, "clip": true},
       "encoding": {
         "x": {"field": "date", "type": "temporal"}, "y": {"field": "v", "type": "quantitative"},
         "color": {"datum": "Forecast Elevation",
           "scale": {"domain": ["2024 Actual Elevation", "Forecast Elevation", "Historical Median Elevation Record", "Elevation Range  1964 - Present"], "range": ["#0000ff", "#ff0000", "#f99b1c", "#e1e1e1"]},
           "legend": {"orient": "none", "legendX": 228, "legendY": 612.5, "title": "Actual Data thru NOV 11, 2024", "titleFontSize": 17, "titleFontWeight": "bold", "titleAnchor": "middle", "titleColor": "#111", "titlePadding": 21, "titleLimit": 600,
             "labelFontSize": 18, "labelColor": "#222", "labelOffset": 21, "labelLimit": 600, "symbolSize": 841, "symbolOffset": 12.5, "symbolStrokeWidth": 0, "rowPadding": 6.5, "padding": 12, "strokeColor": "black", "fillColor": "white", "zindex": 2}},
         "shape": {"datum": "Forecast Elevation",
           "scale": {"domain": ["2024 Actual Elevation", "Forecast Elevation", "Historical Median Elevation Record", "Elevation Range  1964 - Present"],
             "range": ["M-1.25,-0.18H1.25V0.18H-1.25Z", "M-0.4,-0.33H0.4V0.33H-0.4Z", "M-1.5,-0.11H1.5V0.11H-1.5Z", "M-1.64,-0.32H1.64V0.32H-1.64Z"]},
           "legend": {"orient": "none", "legendX": 228, "legendY": 612.5, "title": "Actual Data thru NOV 11, 2024", "titleFontSize": 17, "titleFontWeight": "bold", "titleAnchor": "middle", "titleColor": "#111", "titlePadding": 21, "titleLimit": 600,
             "labelFontSize": 18, "labelColor": "#222", "labelOffset": 21, "labelLimit": 600, "symbolSize": 841, "symbolOffset": 12.5, "symbolStrokeWidth": 0, "rowPadding": 6.5, "padding": 12, "strokeColor": "black", "fillColor": "white", "zindex": 2}}
       }}
    ]
  },
  {
    "width": 1125, "height": 800,
    "layer": [
      {"data": {"values": [{}]}, "mark": {"type": "rect", "fill": "white", "stroke": "black", "strokeWidth": 8, "clip": false},
       "encoding": {
         "x": {"datum": 1701593568000, "type": "temporal"},
         "x2": {"datum": 1736223552000},
         "y": {"datum": 195.82, "type": "quantitative"},
         "y2": {"datum": 181.358}}},
      {"data": {"values": [{}]}, "mark": {"type": "text", "text": "W.F. George Action Zones and Actual 2024 Elevations", "align": "left", "baseline": "middle", "color": "#f21d1d", "font": "Liberation Sans", "fontSize": 20, "fontStyle": "italic", "fontWeight": "bold", "clip": false},
       "encoding": {
         "x": {"datum": 1711178784000, "type": "temporal"},
         "y": {"datum": 195.447, "type": "quantitative"}}},
      {"data": {"name": "p3range"}, "mark": {"type": "area", "color": "#e2e2e2", "opacity": 1, "clip": true},
       "encoding": {
         "x": {"field": "date", "type": "temporal",
           "scale": {"type": "utc", "domain": [{"year":2024,"month":1,"date":1,"utc":true},{"year":2025,"month":1,"date":1,"utc":true}]},
           "axis": {"zindex": 1, "values": [{"year":2024,"month":1,"date":1,"utc":true},{"year":2024,"month":2,"date":1,"utc":true},{"year":2024,"month":3,"date":1,"utc":true},{"year":2024,"month":4,"date":1,"utc":true},{"year":2024,"month":5,"date":1,"utc":true},{"year":2024,"month":6,"date":1,"utc":true},{"year":2024,"month":7,"date":1,"utc":true},{"year":2024,"month":8,"date":1,"utc":true},{"year":2024,"month":9,"date":1,"utc":true},{"year":2024,"month":10,"date":1,"utc":true},{"year":2024,"month":11,"date":1,"utc":true},{"year":2024,"month":12,"date":1,"utc":true},{"year":2025,"month":1,"date":1,"utc":true}],
             "format": "%-d-%b", "labelExpr": "datum.value >= 1735689000000 ? '' : datum.label", "title": null, "labelFontSize": 16, "labelPadding": 4, "tickSize": 5, "gridColor": "#8c8c8c", "gridWidth": 1.3}},
         "y": {"field": "v", "type": "quantitative",
           "scale": {"domain": [182, 195], "nice": false, "zero": false},
           "axis": {"zindex": 1, "values": [182,184,186,188,190,192,194,195], "format": ".2f", "labelExpr": "datum.value > 194.5 ? '' : datum.label",
             "title": "Elevation in FT NGVD", "titleAngle": 0, "titleAlign": "left", "titleBaseline": "middle", "titleX": -1, "titleY": -29.5, "titleFontSize": 15.5,
             "labelFontSize": 17, "labelPadding": 10, "tickSize": 5, "gridColor": "#8c8c8c", "gridWidth": 1.3}},
         "y2": {"field": "lo"}}},
      {"data": {"name": "p3zones"}, "mark": {"type": "line", "color": "black", "strokeWidth": 5, "clip": true},
       "encoding": {"x": {"field": "date", "type": "temporal"}, "y": {"field": "v", "type": "quantitative"}, "detail": {"field": "id"}}},
      {"data": {"name": "p3navy"}, "mark": {"type": "text", "color": "#1e1e78", "font": "Liberation Sans", "fontSize": 16, "fontWeight": "bold", "align": "center", "baseline": "middle"},
       "encoding": {"x": {"field": "date", "type": "temporal"}, "y": {"field": "v", "type": "quantitative"}, "text": {"field": "label"}}},
      {"data": {"name": "p3zonelabels"}, "mark": {"type": "text", "color": "#111111", "font": "Liberation Sans", "fontSize": 16, "fontWeight": "bold", "align": "center", "baseline": "middle"},
       "encoding": {"x": {"field": "date", "type": "temporal"}, "y": {"field": "v", "type": "quantitative"}, "text": {"field": "label"}}},
      {"data": {"name": "p3orange"}, "mark": {"type": "line", "color": "#f99b1c", "strokeWidth": 2.5, "clip": true},
       "encoding": {"x": {"field": "date", "type": "temporal"}, "y": {"field": "v", "type": "quantitative"}}},
      {"data": {"name": "p3blue"}, "mark": {"type": "line", "color": "#0000ff", "strokeWidth": 5, "clip": true},
       "encoding": {"x": {"field": "date", "type": "temporal"}, "y": {"field": "v", "type": "quantitative"}}},
      {"data": {"name": "p3forecast"}, "mark": {"type": "point", "filled": true, "size": 625, "opacity": 1, "clip": true},
       "encoding": {
         "x": {"field": "date", "type": "temporal"}, "y": {"field": "v", "type": "quantitative"},
         "color": {"datum": "Forecast Elevation",
           "scale": {"domain": ["2024 Actual Elevation", "Forecast Elevation", "Historical Median Elevation Record", "Elevation Range  1964 - Present"], "range": ["#0000ff", "#ff0000", "#f99b1c", "#e2e2e2"]},
           "legend": {"orient": "none", "legendX": 707, "legendY": 627.5, "title": "Actual Data thru NOV 11, 2024", "titleFontSize": 16, "titleFontWeight": "bold", "titleAnchor": "middle", "titleColor": "#111", "titlePadding": 13, "titleLimit": 600,
             "labelFontSize": 17, "labelColor": "#222", "labelOffset": 16, "labelLimit": 600, "symbolSize": 784, "symbolOffset": 13, "symbolStrokeWidth": 0, "rowPadding": 8.2, "padding": 10, "strokeColor": "black", "fillColor": "white", "zindex": 2,
             "labelExpr": "datum.label == 'Historical Median Elevation Record' ? datum.label + '\u00a0\u00a0\u00a0\u00a0\u00a0\u00a0\u00a0\u200b' : datum.label"}},
         "shape": {"datum": "Forecast Elevation",
           "scale": {"domain": ["2024 Actual Elevation", "Forecast Elevation", "Historical Median Elevation Record", "Elevation Range  1964 - Present"],
             "range": ["M-1.25,-0.18H1.25V0.18H-1.25Z", "M-0.4,-0.33H0.4V0.33H-0.4Z", "M-1.5,-0.11H1.5V0.11H-1.5Z", "M-1.64,-0.32H1.64V0.32H-1.64Z"]},
           "legend": {"orient": "none", "legendX": 707, "legendY": 627.5, "title": "Actual Data thru NOV 11, 2024", "titleFontSize": 16, "titleFontWeight": "bold", "titleAnchor": "middle", "titleColor": "#111", "titlePadding": 13, "titleLimit": 600,
             "labelFontSize": 17, "labelColor": "#222", "labelOffset": 16, "labelLimit": 600, "symbolSize": 784, "symbolOffset": 13, "symbolStrokeWidth": 0, "rowPadding": 8.2, "padding": 10, "strokeColor": "black", "fillColor": "white", "zindex": 2,
             "labelExpr": "datum.label == 'Historical Median Elevation Record' ? datum.label + '\u00a0\u00a0\u00a0\u00a0\u00a0\u00a0\u00a0\u200b' : datum.label"}}
       }}
    ]
  }
]
}
